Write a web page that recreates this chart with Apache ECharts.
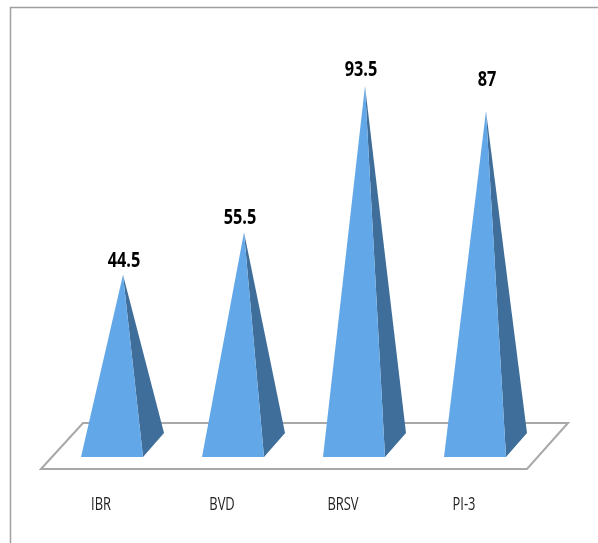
<!DOCTYPE html>
<html>
<head>
<meta charset="utf-8">
<style>html,body{margin:0;padding:0;background:#fff}#c{width:598px;height:543px}</style>
<script src="https://cdn.jsdelivr.net/npm/echarts@6/dist/echarts.min.js"></script>
</head>
<body>
<div id="c"></div>
<script>
const categories = ['IBR', 'BVD', 'BRSV', 'PI-3'];
const values = [44.5, 55.5, 93.5, 87];
const labelShift = [[1, -14], [-4, -15], [-4, -16], [1, -31]];

const FONT = '"Open Sans",sans-serif';
const FRONT = '#62a7e7', SIDE = '#3f6e9b', EDGE = '#a8a8a8';

const chart = echarts.init(document.getElementById('c'), null, {renderer: 'canvas'});

function renderFloor(params, api) {
  const o = api.coord([0, 0]);
  const y0 = o[1], x0 = o[0];
  return {
    type: 'polygon',
    shape: {points: [
      [x0 - 82, y0 + 23], [x0 - 40, y0 - 23],
      [x0 + 445, y0 - 23], [x0 + 404, y0 + 23]
    ]},
    style: {fill: '#fff', stroke: EDGE, lineWidth: 2}
  };
}

function renderPyramid(params, api) {
  const i = api.value(0);
  const top = api.coord([i, api.value(1)]);
  const base = api.coord([i, 0]);
  const cx = base[0], by = base[1];
  const fl = [cx - 42, by + 11], fr = [cx + 20, by + 11], br = [cx + 41, by - 13];
  const s = labelShift[i];
  return {
    type: 'group',
    children: [
      {type: 'polygon', shape: {points: [top, fr, br]}, style: {fill: SIDE}},
      {type: 'polygon', shape: {points: [top, fl, fr]}, style: {fill: FRONT}},
      {type: 'text', x: top[0] + s[0], y: top[1] + s[1], scaleX: 0.74,
        style: {text: String(api.value(1)), fill: '#000', align: 'center', verticalAlign: 'middle',
          font: '700 22px ' + FONT}},
      {type: 'text', x: cx - 22, y: by + 59, scaleX: 0.68,
        style: {text: categories[i], fill: '#222', align: 'center', verticalAlign: 'middle',
          font: '400 19px ' + FONT}}
    ]
  };
}

chart.setOption({
  animation: false,
  backgroundColor: '#fff',
  grid: {left: 62.5, width: 484, top: 61, height: 385},
  xAxis: {
    type: 'category', data: categories,
    axisLine: {show: false}, axisTick: {show: false}, splitLine: {show: false},
    axisLabel: {show: false}
  },
  yAxis: {type: 'value', min: 0, max: 100, show: false},
  graphic: [{
    type: 'polyline', silent: true, z: -1,
    shape: {points: [[10.5, 543], [10.5, 7.5], [598, 7.5]]},
    style: {fill: 'none', stroke: '#a0a0a0', lineWidth: 1.5}
  }],
  series: [
    {type: 'custom', z: 1, renderItem: renderFloor, data: [[0, 0]], encode: {x: 0, y: 1}, silent: true},
    {type: 'custom', z: 2, renderItem: renderPyramid,
      data: values.map((v, i) => [i, v]), encode: {x: 0, y: 1}, silent: true}
  ]
});
</script>
</body>
</html>
